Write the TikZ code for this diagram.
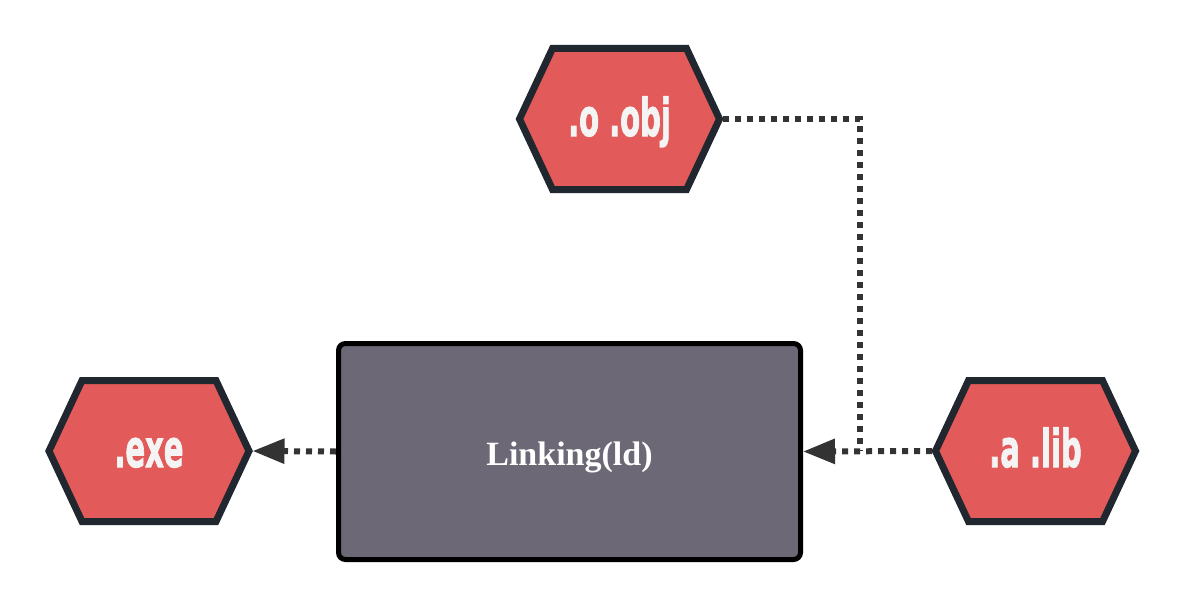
\documentclass[tikz,border=0pt]{standalone}
\usepackage{fontspec}
\setmainfont{Liberation Serif}
\newfontfamily\hexfont{DejaVu Sans Condensed Bold}[FakeBold=2]
\usetikzlibrary{arrows.meta,backgrounds,calc}
\definecolor{hexfill}{HTML}{E35A5A}
\definecolor{hexedge}{HTML}{20272E}
\definecolor{rectfill}{HTML}{6C6876}
\definecolor{conncol}{HTML}{333333}
\definecolor{txtcol}{HTML}{F4F4F4}
\newcommand\hexpath[1]{\draw[hexline] ($(#1.center)+(-100,0)$) -- ++(33,-70.5) -- ++(134,0) -- ++(33,70.5) -- ++(-33,70.5) -- ++(-134,0) -- cycle;}
\begin{document}
\begin{tikzpicture}[x=1pt,y=-1pt,
  hexbox/.style={minimum width=200pt, minimum height=141pt, inner sep=0pt, outer sep=3.5pt},
  hexline/.style={draw=hexedge, line width=7pt, fill=hexfill, line join=miter},
  hextext/.style={anchor=base, text=txtcol, inner sep=0pt, font=\hexfont\fontsize{52}{52}\selectfont},
  procbox/.style={draw=black, line width=5pt, fill=rectfill, rounded corners=7pt, minimum width=462pt, minimum height=216pt},
  proctext/.style={anchor=base, text=white, inner sep=0pt, font=\bfseries\fontsize{34}{34}\selectfont},
  conn/.style={draw=conncol, line width=6pt, dash pattern=on 6pt off 6pt},
  tipped/.style={-{Triangle[length=32pt,width=24pt,fill=conncol]}}]
\useasboundingbox (0,0) rectangle (1186,610);

\node[hexbox] (obj) at (619.5,119) {};
\node[hexbox] (exe) at (149,451) {};
\node[hexbox] (lib) at (1035.5,451) {};
\node[procbox] (link) at (569.5,451.5) {};

\begin{scope}[on background layer]
\hexpath{obj}
\hexpath{exe}
\hexpath{lib}
\end{scope}

\node[hextext] (objt) at ([yshift=-17pt]obj.center) {\scalebox{0.62}[1]{.o .obj}};
\node[hextext] (exet) at ([yshift=-16pt]exe.center) {\scalebox{0.62}[1]{.exe}};
\node[hextext] (libt) at ([yshift=-16pt]lib.center) {\scalebox{0.62}[1]{.a .lib}};
\node[proctext] (linkt) at ([yshift=-13.5pt]link.center) {Linking(ld)};

\coordinate (bend) at (860,451);
\draw[conn,tipped] (link.west) -- (exe.east);
\draw[conn] (obj.east) -| (bend);
\draw[conn,tipped] (lib.west) -- (link.east);
\end{tikzpicture}
\end{document}
